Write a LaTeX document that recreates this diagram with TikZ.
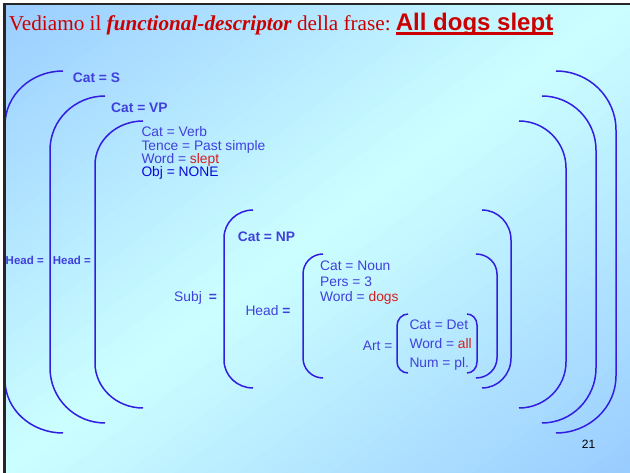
\documentclass[tikz,border=0pt]{standalone}
\usepackage{fontspec}
\setmainfont{Liberation Serif}
\setsansfont{Liberation Sans}
\usetikzlibrary{calc}
\definecolor{blueA}{RGB}{153,204,255}
\definecolor{cyanB}{RGB}{204,255,255}
\definecolor{bcol}{RGB}{50,30,225}
\definecolor{tcol}{RGB}{64,64,220}
\definecolor{objcol}{RGB}{10,10,215}
\definecolor{wred}{RGB}{215,30,30}
\definecolor{titlered}{RGB}{204,0,0}
\newcommand\mybrk[6]{\draw[brk] (#1,#2) .. controls ({#1+0.552*(#3-#1)},#2) and (#3,{#4-0.552*(#4-#2)}) .. (#3,#4) -- (#3,#5) .. controls (#3,{#5+0.552*(#6-#5)}) and ({#1+0.552*(#3-#1)},#6) .. (#1,#6);}
\begin{document}
\begin{tikzpicture}[x=1pt,y=-1pt,
  brk/.style={draw=bcol, line width=1.5pt},
  txt/.style={anchor=base west, inner sep=0pt, text=tcol, font=\sffamily\fontsize{13.8}{13.8}\selectfont},
  btxt/.style={txt, font=\sffamily\bfseries\fontsize{13.8}{13.8}\selectfont},
  htxt/.style={txt, font=\sffamily\bfseries\fontsize{11.5}{11.5}\selectfont}]
\useasboundingbox (0,0) rectangle (630,473);
\fill[white] (0,0) rectangle (630,473);
\begin{scope}
\clip (4,4) rectangle (630,473);
\foreach \i in {0,...,79}{
  \pgfmathsetmacro\ta{\i/80}
  \pgfmathsetmacro\tb{(\i+1)/80}
  \pgfmathsetmacro\f{100*(1-abs(\ta+\tb-1))}
  \colorlet{stripc}{cyanB!\f!blueA}
  \fill[stripc] ({2*\ta*630},0) -- ({2*\tb*630+2},0) -- (0,{2*\tb*473+2}) -- (0,{2*\ta*473}) -- cycle;
}
\end{scope}
% brackets
\mybrk{63}{71}{5}{125}{380}{433}
\mybrk{105}{96}{50}{150}{368}{423}
\mybrk{143}{121}{95}{165}{363}{408}
\mybrk{253}{210}{224}{238}{360}{388}
\mybrk{323}{254}{303}{274}{358}{378}
\mybrk{408}{314}{397}{326}{362}{373}
\mybrk{556}{71}{616}{130}{376}{433}
\mybrk{542}{96}{596}{150}{368}{423}
\mybrk{519}{121}{566}{168}{362}{408}
\mybrk{482}{210}{511}{240}{358}{388}
\mybrk{476}{254}{497}{274}{358}{378}
\mybrk{467}{314}{477}{325}{362}{373}
% frame
\fill[black!85] (3,3) rectangle (630,5.5);
\fill[black!85] (3,3) rectangle (6,473);
% title
\node[anchor=base west, inner sep=0pt, text=titlered, font=\fontsize{21.2}{21.2}\selectfont] (t1) at (8.8,30.7) {Vediamo il \textbf{\textit{functional-descriptor}} della frase:};
\node[anchor=base west, inner sep=0pt, text=titlered, font=\sffamily\bfseries\fontsize{24}{24}\selectfont] (t2) at (395.7,30.7) {All dogs slept};
\draw[titlered, line width=2.5pt] ($(t2.base west)+(0,3)$) -- ($(t2.base east)+(0,3)$);
% labels
\node[btxt] (cs) at (72.7,82.7) {Cat = S};
\node[btxt] (cvp) at (111,112.7) {Cat = VP};
\node[txt] (v1) at (141.3,136.5) {Cat = Verb};
\node[txt] (v2) at (141.3,150.2) {Tence = Past simple};
\node[txt] (v3) at (141.3,163.3) {Word = \textcolor{wred}{slept}};
\node[txt, text=objcol] (v4) at (141.3,176.5) {Obj = NONE};
\node[htxt] (h1) at (5.5,265) {Head =};
\node[htxt] (h2) at (52.7,265) {Head =};
\node[txt] (subj) at (174,301.7) {Subj\hspace{7pt}\textbf{=}};
\node[btxt] (cnp) at (237.7,241.7) {Cat = NP};
\node[txt] (h3) at (245.3,315.7) {Head \textbf{=}};
\node[txt] (n1) at (320,271) {Cat = Noun};
\node[txt] (n2) at (320,286.5) {Pers = 3};
\node[txt] (n3) at (320,301.7) {Word = \textcolor{wred}{dogs}};
\node[txt] (art) at (362.7,350.7) {Art =};
\node[txt] (d1) at (409.3,330) {Cat = Det};
\node[txt] (d2) at (409.3,349) {Word = \textcolor{wred}{all}};
\node[txt] (d3) at (409.3,367.7) {Num = pl.};
\node[anchor=base west, inner sep=0pt, text=black, font=\sffamily\fontsize{12}{12}\selectfont] (pg) at (581.7,449) {21};
\end{tikzpicture}
\end{document}
